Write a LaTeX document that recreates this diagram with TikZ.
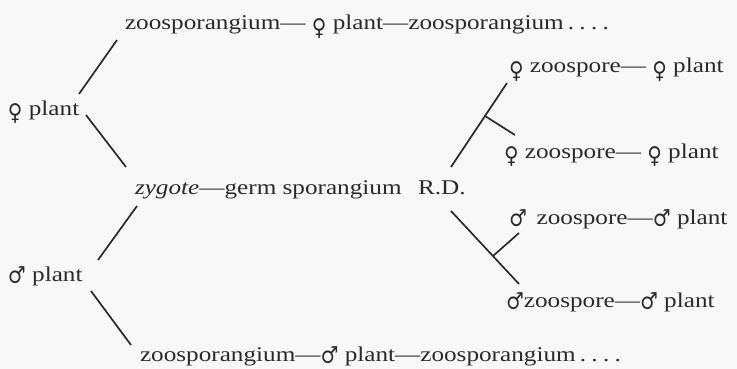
\documentclass[tikz,border=0pt]{standalone}
\usepackage{fontspec}
\setmainfont[FakeStretch=1.2]{Liberation Serif}
\newfontfamily\symfont{DejaVu Serif}
\newcommand{\fem}{\raisebox{-0.25em}{\scalebox{0.95}[1.1]{\symfont ♀}}}
\newcommand{\mal}{\raisebox{-0.12em}{\scalebox{0.95}[1.1]{\symfont ♂}}}
\newcommand{\fourdots}{\kern0.2em.\kern0.25em.\kern0.25em.\kern0.25em.}
\definecolor{ink}{HTML}{2A2A2A}
\definecolor{paper}{HTML}{F8F8F8}
\begin{document}
\begin{tikzpicture}[x=1pt,y=-1pt,
  lab/.style={anchor=base west,inner sep=0pt,outer sep=0pt,text=ink,font=\fontsize{21}{24}\selectfont},
  link/.style={draw=ink,line width=1.7pt}]
\fill[paper] (0,0) rectangle (737,369);
\useasboundingbox (0,0) rectangle (737,369);
% texts
\node[lab] (top) at (125,30) {zoosporangium— \fem{} plant—zoosporangium\fourdots};
\node[lab] (fplant) at (8,115) {\fem{} plant};
\node[lab] (zyg) at (135,194) {\textit{zygote}—germ sporangium};
\node[lab] (rd) at (418,194) {R.D.};
\node[lab] (mplant) at (8,281) {\mal{} plant};
\node[lab] (bot) at (140,361) {zoosporangium—\mal{} plant—zoosporangium\fourdots};
\node[lab] (fz1) at (509,73) {\fem{} zoospore— \fem{} plant};
\node[lab] (fz2) at (504,158) {\fem{} zoospore— \fem{} plant};
\node[lab] (mz1) at (509,224) {\mal{}\, zoospore—\mal{} plant};
\node[lab] (mz2) at (506,307) {\mal{}zoospore—\mal{} plant};
% line ends
\coordinate (a1) at (117,40);  \coordinate (a2) at (79,94);
\coordinate (b1) at (86,115);  \coordinate (b2) at (126,167);
\coordinate (c1) at (137,206); \coordinate (c2) at (98,260);
\coordinate (d1) at (91,291);  \coordinate (d2) at (131,345);
\coordinate (e1) at (451,167); \coordinate (e2) at (507,83);
\coordinate (et1) at (485,116); \coordinate (et2) at (515,135);
\coordinate (f1) at (451,211); \coordinate (f2) at (519,284);
\coordinate (ft1) at (493,256); \coordinate (ft2) at (519,233);
\draw[link] (a1) -- (a2);
\draw[link] (b1) -- (b2);
\draw[link] (c1) -- (c2);
\draw[link] (d1) -- (d2);
\draw[link] (e1) -- (e2);
\draw[link] (et1) -- (et2);
\draw[link] (f1) -- (f2);
\draw[link] (ft1) -- (ft2);
\end{tikzpicture}
\end{document}
